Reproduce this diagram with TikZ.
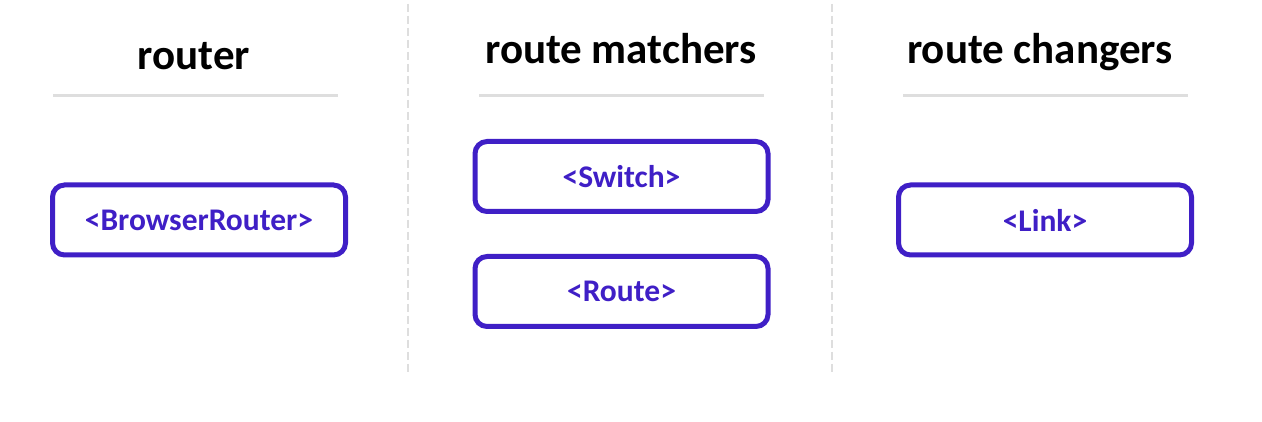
\documentclass[tikz,border=0pt]{standalone}
\usepackage{fontspec}
\setmainfont{Carlito}
\definecolor{tagpurple}{HTML}{3F1FC6}
\definecolor{rulegray}{HTML}{DEDEDE}
\begin{document}
\begin{tikzpicture}[x=1pt, y=-1pt,
		title/.style={anchor=base, font=\fontsize{43}{48}\selectfont\bfseries, text=black},
		tagbox/.style={draw=tagpurple, line width=5pt, rounded corners=12pt,
			minimum width=293pt, minimum height=70pt, inner sep=0pt,
			text=tagpurple, font=\fontsize{31.5}{36}\selectfont\bfseries},
		underline/.style={rulegray, line width=3pt},
		divider/.style={rulegray, line width=2.5pt, dash pattern=on 8pt off 4pt}]
	\useasboundingbox (0,0) rectangle (1262,422);
	
	% colonne
	\node[title] (tRouter) at (194, 70) {router};
	\node[title] (tMatch) at (621, 64) {route matchers};
	\node[title] (tChange) at (1040, 64) {route changers};
	
	\coordinate (uA) at (53, 96);   \coordinate (uB) at (338, 96);
	\coordinate (uC) at (479, 96);  \coordinate (uD) at (764, 96);
	\coordinate (uE) at (903, 96);  \coordinate (uF) at (1188, 96);
	\draw[underline] (uA) -- (uB);
	\draw[underline] (uC) -- (uD);
	\draw[underline] (uE) -- (uF);
	
	\coordinate (dTopA) at (408, 4);  \coordinate (dBotA) at (408, 374);
	\coordinate (dTopB) at (832, 4);  \coordinate (dBotB) at (832, 372);
	\draw[divider] (dTopA) -- (dBotA);
	\draw[divider] (dTopB) -- (dBotB);
	
	% componenti
	\node[tagbox] (browser) at (199, 220) {<BrowserRouter>};
	\node[tagbox] (switch) at (621.5, 176.5) {<Switch>};
	\node[tagbox] (route) at (621.5, 291.5) {<Route>};
	\node[tagbox] (link) at (1045, 220) {<Link>};
\end{tikzpicture}
\end{document}
